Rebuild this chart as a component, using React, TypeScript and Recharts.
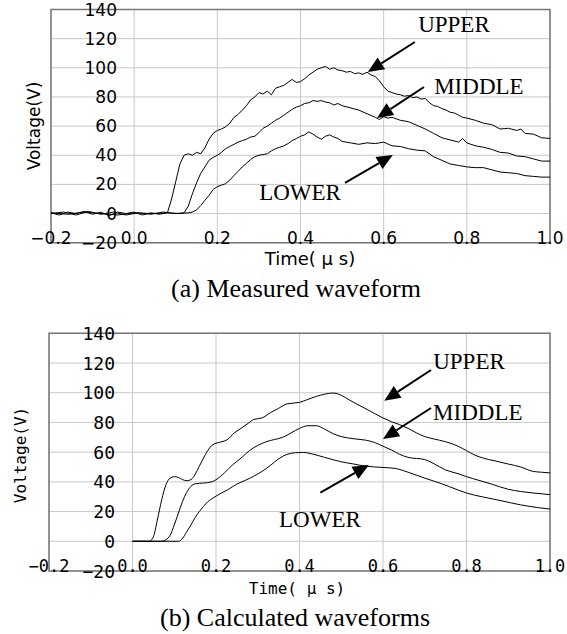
import React from 'react';
import { LineChart, Line, XAxis, YAxis, CartesianGrid, ReferenceArea, ReferenceLine, ReferenceDot } from 'recharts';

// time (µs), voltage (V)
const MEAS_UPPER: [number, number][] = [
  [-0.2, 0.5], [-0.18, -1], [-0.16, 1], [-0.14, 0], [-0.12, 1.5], [-0.1, -0.5], [-0.08, 1], [-0.06, -1.5],
  [-0.04, 1], [-0.02, 0], [0, 1], [0.02, -1], [0.04, 0.5], [0.06, -0.5], [0.08, 0.5], [0.09, 10], [0.1, 22],
  [0.11, 34], [0.12, 40], [0.13, 41], [0.14, 40], [0.15, 42], [0.16, 41], [0.17, 45], [0.18, 51], [0.19, 55],
  [0.2, 57], [0.21, 58], [0.22, 59.5], [0.23, 62], [0.24, 66], [0.25, 68], [0.26, 71], [0.27, 74], [0.28, 78],
  [0.29, 80], [0.3, 83], [0.31, 82], [0.32, 84], [0.33, 81.5], [0.34, 86], [0.35, 87], [0.36, 88], [0.37, 90],
  [0.38, 92], [0.39, 90], [0.4, 90.5], [0.41, 92.5], [0.42, 95], [0.43, 97], [0.44, 99], [0.45, 100], [0.46, 101],
  [0.47, 99], [0.48, 100], [0.49, 98.5], [0.5, 98], [0.51, 97], [0.52, 97.5], [0.53, 96], [0.54, 96.5],
  [0.55, 95.5], [0.56, 97], [0.57, 95], [0.58, 94], [0.59, 91], [0.6, 87], [0.61, 84], [0.62, 83], [0.63, 82],
  [0.64, 81.5], [0.65, 80.5], [0.66, 81], [0.67, 79.5], [0.68, 80], [0.69, 78.5], [0.7, 79], [0.71, 76],
  [0.72, 74], [0.73, 73.5], [0.74, 72], [0.75, 71], [0.76, 69.5], [0.77, 69], [0.78, 67.5], [0.79, 66],
  [0.8, 65.5], [0.82, 64], [0.84, 62], [0.86, 61], [0.88, 58], [0.9, 58.5], [0.92, 57], [0.93, 58], [0.94, 55],
  [0.96, 54.5], [0.98, 52], [1.0, 51.5],
];
const MEAS_MIDDLE: [number, number][] = [
  [-0.2, 0], [-0.17, 1], [-0.14, -1], [-0.11, 1.5], [-0.08, -0.5], [-0.05, 1], [-0.02, -1], [0.01, 0.5],
  [0.04, -0.5], [0.07, 1], [0.1, 0], [0.12, 0.5], [0.13, 5], [0.14, 13.5], [0.15, 21], [0.16, 27.5], [0.17, 32],
  [0.18, 36.5], [0.19, 38.5], [0.2, 40], [0.21, 42], [0.22, 44.5], [0.23, 46], [0.24, 47.5], [0.25, 49],
  [0.26, 50], [0.27, 51], [0.28, 52.5], [0.29, 53], [0.3, 55.5], [0.31, 58.5], [0.32, 60], [0.33, 62], [0.34, 64],
  [0.35, 65.5], [0.36, 67.5], [0.37, 69.5], [0.38, 71.5], [0.39, 73], [0.4, 74], [0.41, 75.5], [0.42, 76],
  [0.43, 77.5], [0.44, 77], [0.45, 77.5], [0.46, 76.5], [0.47, 76], [0.48, 74.5], [0.49, 75.5], [0.5, 74],
  [0.52, 72.5], [0.54, 71], [0.56, 68.5], [0.58, 66], [0.59, 64.5], [0.6, 66.5], [0.61, 65.5], [0.62, 66],
  [0.64, 64], [0.66, 63], [0.68, 60.5], [0.7, 58], [0.72, 55], [0.74, 52], [0.76, 50.5], [0.78, 49], [0.79, 51.5],
  [0.8, 48.5], [0.82, 46.5], [0.84, 45.5], [0.86, 44], [0.88, 42], [0.9, 41.5], [0.92, 39.5], [0.94, 39],
  [0.96, 37.5], [0.98, 36], [1.0, 36],
];
const MEAS_LOWER: [number, number][] = [
  [-0.2, 0.5], [-0.16, -0.5], [-0.12, 1], [-0.08, 0], [-0.04, -1], [0, 0.5], [0.04, 0], [0.08, 0.5], [0.11, 0],
  [0.13, 0.5], [0.14, 1], [0.15, 2.5], [0.16, 5.5], [0.17, 9], [0.18, 12.5], [0.19, 16.5], [0.2, 18.5],
  [0.21, 19.5], [0.22, 20.5], [0.23, 23], [0.24, 26], [0.25, 29], [0.26, 32], [0.27, 34.5], [0.28, 37],
  [0.29, 39], [0.3, 40], [0.31, 40.5], [0.32, 41], [0.33, 43], [0.34, 44.5], [0.35, 45.5], [0.36, 46.5],
  [0.37, 48], [0.38, 50], [0.39, 51.5], [0.4, 53], [0.41, 54], [0.42, 56], [0.43, 54.5], [0.44, 52.5], [0.45, 51],
  [0.46, 53], [0.47, 54], [0.48, 52.5], [0.49, 51.5], [0.5, 49.5], [0.52, 48.5], [0.54, 47.5], [0.56, 48.5],
  [0.58, 48], [0.6, 49], [0.62, 46.5], [0.64, 46], [0.66, 44.5], [0.68, 43.5], [0.7, 43], [0.72, 39],
  [0.74, 36.5], [0.76, 34], [0.78, 33], [0.8, 32], [0.82, 31.5], [0.84, 31.5], [0.86, 30], [0.88, 28.5],
  [0.9, 28], [0.92, 27.5], [0.94, 26], [0.96, 25.5], [0.98, 25], [1.0, 25],
];

const CALC_UPPER: [number, number][] = [
  [0, 0], [0.04, 0], [0.05, 3], [0.06, 15], [0.07, 28], [0.08, 38], [0.09, 42.5], [0.1, 43.5], [0.11, 43],
  [0.12, 41.5], [0.13, 40.8], [0.14, 41.5], [0.15, 45], [0.16, 50.5], [0.17, 56], [0.18, 61], [0.19, 64.5],
  [0.2, 66], [0.22, 67.5], [0.23, 69], [0.24, 72], [0.26, 76], [0.28, 80], [0.29, 82], [0.31, 83], [0.33, 86.5],
  [0.35, 89.5], [0.37, 92.5], [0.4, 93.5], [0.42, 95.5], [0.44, 97.5], [0.46, 99], [0.48, 99.8], [0.5, 98.3],
  [0.52, 95], [0.55, 90.5], [0.58, 86], [0.6, 83], [0.62, 80.5], [0.64, 78.5], [0.66, 76], [0.68, 73],
  [0.7, 70.5], [0.72, 69], [0.75, 67], [0.78, 64], [0.8, 61], [0.82, 58], [0.84, 56], [0.87, 54], [0.9, 52],
  [0.93, 50], [0.96, 47], [0.98, 46.5], [1.0, 46],
];
const CALC_MIDDLE: [number, number][] = [
  [0, 0], [0.07, 0], [0.08, 1], [0.09, 4], [0.1, 11], [0.11, 19], [0.12, 27], [0.13, 33], [0.14, 37],
  [0.15, 38.7], [0.17, 39.2], [0.19, 40], [0.2, 41.4], [0.22, 46], [0.24, 51.5], [0.26, 56], [0.28, 61],
  [0.3, 64.5], [0.32, 67], [0.34, 68.5], [0.36, 70], [0.38, 73], [0.4, 76], [0.42, 77.8], [0.44, 77.8],
  [0.46, 75.5], [0.48, 72.5], [0.5, 70.5], [0.53, 69], [0.56, 68], [0.58, 66.5], [0.6, 64], [0.62, 61.5],
  [0.64, 58.5], [0.66, 56.5], [0.7, 55], [0.72, 52.5], [0.75, 48], [0.78, 45.5], [0.8, 43.5], [0.83, 41],
  [0.86, 38.5], [0.9, 35], [0.93, 33.5], [0.96, 32.5], [1.0, 31.4],
];
const CALC_LOWER: [number, number][] = [
  [0, 0], [0.11, 0], [0.12, 2], [0.13, 6.5], [0.14, 11], [0.15, 16], [0.16, 20], [0.17, 23.5], [0.18, 26.5],
  [0.19, 28.6], [0.21, 32], [0.23, 35], [0.25, 38.5], [0.27, 41], [0.29, 43.7], [0.31, 47], [0.33, 51],
  [0.35, 55.5], [0.37, 58.5], [0.39, 59.6], [0.41, 59.8], [0.43, 58.8], [0.46, 56.5], [0.5, 53.5], [0.53, 52],
  [0.56, 50.5], [0.6, 49.7], [0.63, 49], [0.66, 46.5], [0.7, 42.5], [0.74, 38.8], [0.78, 34.5], [0.8, 32.5],
  [0.84, 29.8], [0.88, 27.5], [0.93, 24.5], [0.97, 22.7], [1.0, 21.7],
];

const X_TICKS = [-0.2, 0, 0.2, 0.4, 0.6, 0.8, 1.0];
const Y_TICKS = [-20, 0, 20, 40, 60, 80, 100, 120, 140];

// annotation anchors in data units: label, text position, arrow tail, arrow head
type Note = { label: string; text: [number, number]; tail: [number, number]; head: [number, number] };
const NOTES_A: Note[] = [
  { label: 'UPPER', text: [0.769, 130], tail: [0.675, 117.7], head: [0.562, 97.1] },
  { label: 'MIDDLE', text: [0.829, 87.5], tail: [0.697, 86.8], head: [0.584, 65.6] },
  { label: 'LOWER', text: [0.399, 14.1], tail: [0.507, 21], head: [0.622, 40.2] },
];
const NOTES_B: Note[] = [
  { label: 'UPPER', text: [0.806, 120.7], tail: [0.715, 115.3], head: [0.603, 94.6] },
  { label: 'MIDDLE', text: [0.827, 87], tail: [0.715, 89.7], head: [0.6, 68.9] },
  { label: 'LOWER', text: [0.449, 14.4], tail: [0.45, 32.7], head: [0.566, 51.4] },
];

const toRows = (pts: [number, number][]) => pts.map(([t, v]) => ({ t, v }));
const minus = (s: string) => s.replace('-', '\u2212');

const Arrow = (p: any) => {
  const { x1, y1, x2, y2 } = p;
  const ang = Math.atan2(y2 - y1, x2 - x1);
  const len = 16;
  const hw = 7;
  const bx = x2 - len * Math.cos(ang);
  const by = y2 - len * Math.sin(ang);
  const px = -Math.sin(ang) * hw;
  const py = Math.cos(ang) * hw;
  return (
    <g>
      <line x1={x1} y1={y1} x2={bx} y2={by} stroke="#000" strokeWidth={2} />
      <polygon points={`${x2},${y2} ${bx + px},${by + py} ${bx - px},${by - py}`} fill="#000" />
    </g>
  );
};

const NoteText = (label: string) => (p: any) => (
  <text x={p.cx} y={p.cy} textAnchor="middle" dominantBaseline="central"
    style={{ fontFamily: '"Liberation Serif", serif', fontSize: 23 }} fill="#000">
    {label}
  </text>
);

type PanelProps = {
  series: [number, number][][];
  notes: Note[];
  margin: { top: number; right: number; bottom: number; left: number };
  height: number;
  tickFont: string;
  tickSize: number;
  xTickSize: number;
  curve: 'linear' | 'monotone';
};

function Panel({ series, notes, margin, height, tickFont, tickSize, xTickSize, curve }: PanelProps) {
  const tickStyle = { fontFamily: tickFont, fontSize: tickSize };
  const XTick = (p: any) => (
    <text x={p.x} y={p.y - 5} textAnchor="middle" dominantBaseline="central"
      style={{ fontFamily: tickFont, fontSize: xTickSize }} fill="#000">
      {minus(Number(p.payload.value).toFixed(1))}
    </text>
  );
  const YTick = (p: any) => (
    <text x={p.x + 66} y={p.y} textAnchor="end" dominantBaseline="central" style={tickStyle} fill="#000">
      {minus(String(p.payload.value))}
    </text>
  );
  return (
    <LineChart width={567} height={height} margin={margin}>
      <CartesianGrid stroke="#c8c8c8" strokeWidth={1} />
      <XAxis type="number" dataKey="t" domain={[-0.2, 1]} ticks={X_TICKS} height={1}
        axisLine={false} tickLine={false} tickSize={0} tickMargin={0} interval={0} tick={<XTick />} />
      <YAxis type="number" domain={[-20, 140]} ticks={Y_TICKS} width={1}
        axisLine={false} tickLine={false} tickSize={0} tickMargin={0} interval={0} tick={<YTick />} />
      <ReferenceArea x1={-0.2} x2={1} y1={-20} y2={140} fill="none" stroke="#777" strokeWidth={1.5} />
      {series.map((s, i) => (
        <Line key={i} data={toRows(s)} dataKey="v" type={curve} stroke="#000" strokeWidth={1}
          dot={false} isAnimationActive={false} />
      ))}
      {notes.map((n) => (
        <ReferenceLine key={n.label + 'a'} segment={[{ x: n.tail[0], y: n.tail[1] }, { x: n.head[0], y: n.head[1] }]}
          shape={Arrow} />
      ))}
      {notes.map((n) => (
        <ReferenceDot key={n.label + 't'} x={n.text[0]} y={n.text[1]} r={1} shape={NoteText(n.label)} />
      ))}
    </LineChart>
  );
}

const abs = (x: number, y: number, extra: React.CSSProperties): React.CSSProperties => ({
  position: 'absolute', left: x, top: y, transform: 'translate(-50%, -50%)', whiteSpace: 'nowrap', color: '#000', ...extra,
});

export default function App() {
  const sans = '"DejaVu Sans", sans-serif';
  const mono = '"DejaVu Sans Mono", monospace';
  const serif = '"Liberation Serif", serif';
  return (
    <div style={{ position: 'absolute', left: 0, top: 0, width: 567, height: 634, background: '#fff' }}>
      <div style={{ position: 'absolute', left: 0, top: 0 }}>
        <Panel series={[MEAS_UPPER, MEAS_MIDDLE, MEAS_LOWER]} notes={NOTES_A} height={300}
          margin={{ top: 9.5, right: 17, bottom: 56.3, left: 50 }} tickFont={sans} tickSize={17} xTickSize={17}
          curve="linear" />
      </div>
      <div style={{ position: 'absolute', left: 0, top: 300 }}>
        <Panel series={[CALC_UPPER, CALC_MIDDLE, CALC_LOWER]} notes={NOTES_B} height={334}
          margin={{ top: 33.3, right: 17, bottom: 62, left: 48 }} tickFont={mono} tickSize={18} xTickSize={17}
          curve="monotone" />
      </div>
      <div style={abs(34, 126, { fontFamily: sans, fontSize: 17, transform: 'translate(-50%, -50%) rotate(-90deg)' })}>Voltage(V)</div>
      <div style={abs(310, 258, { fontFamily: sans, fontSize: 18 })}>Time( μ s)</div>
      <div style={abs(296, 289, { fontFamily: serif, fontSize: 26 })}>(a) Measured waveform</div>
      <div style={abs(20, 455, { fontFamily: mono, fontSize: 16, transform: 'translate(-50%, -50%) rotate(-90deg)' })}>Voltage(V)</div>
      <div style={abs(297, 588, { fontFamily: mono, fontSize: 16 })}>Time( μ s)</div>
      <div style={abs(295, 618, { fontFamily: serif, fontSize: 26 })}>(b) Calculated waveforms</div>
    </div>
  );
}
